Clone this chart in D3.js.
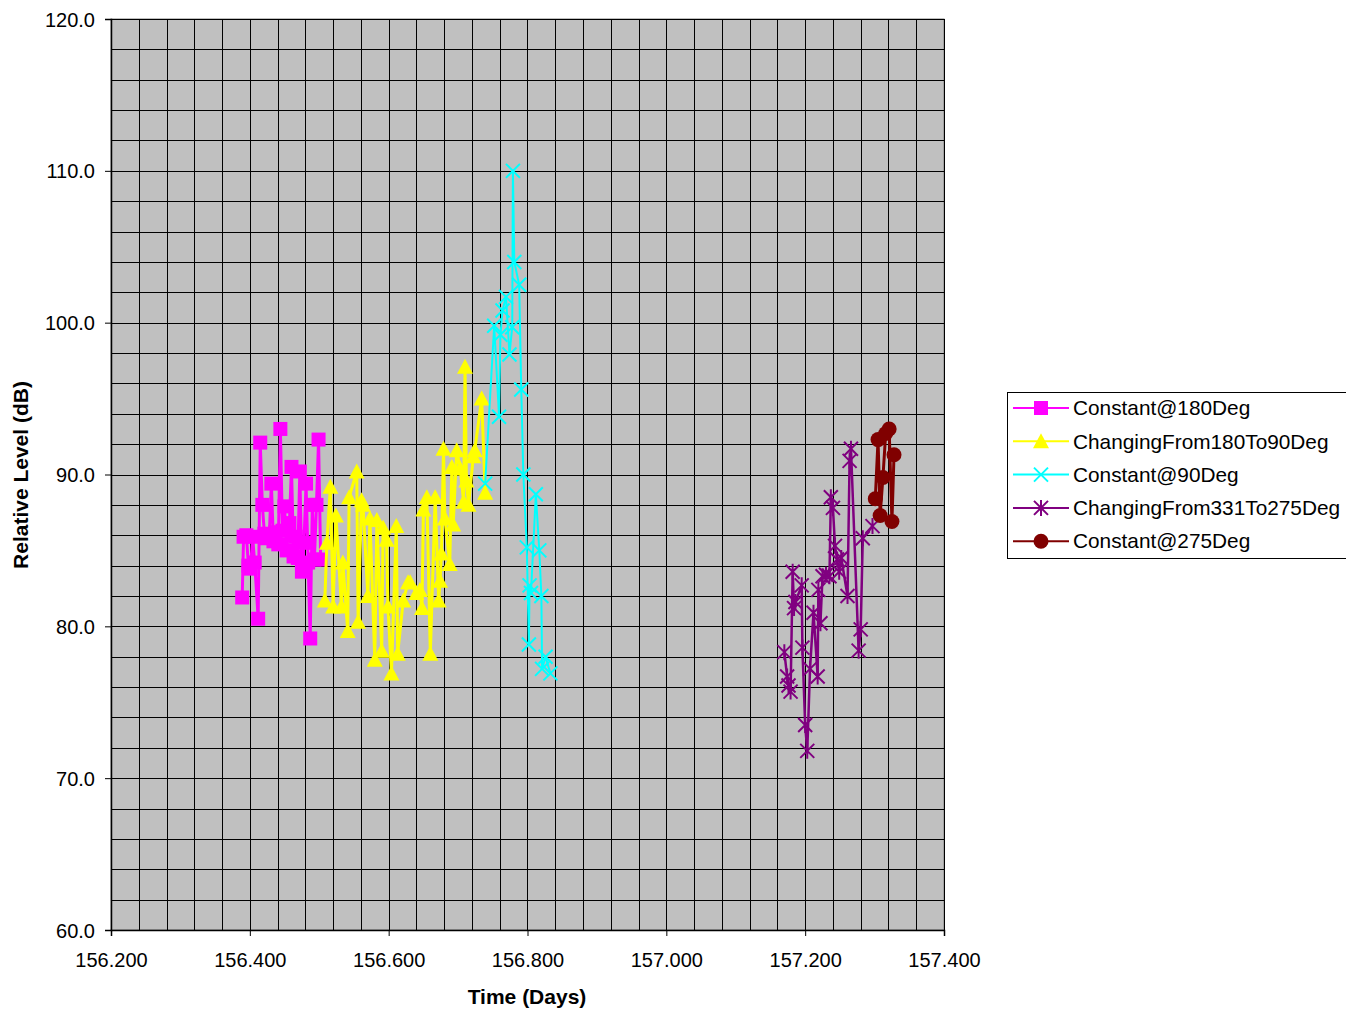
<!DOCTYPE html>
<html>
<head>
<meta charset="utf-8">
<script src="https://cdn.jsdelivr.net/npm/d3@7"></script>
<style>
  body { margin: 0; background: #fff; }
  svg { display: block; font-family: "Liberation Sans", Arial, sans-serif; }
  .axis text { font-size: 20px; fill: #000; }
  .axis path, .axis line { stroke: #000; }
</style>
</head>
<body>
<div id="chart"></div>
<script>
// Series data: time (days) and relative level (dB)
const seriesNames = ["Constant@180Deg", "ChangingFrom180To90Deg", "Constant@90Deg",
                     "ChangingFrom331To275Deg", "Constant@275Deg"];

const t180 = [156.389, 156.391, 156.395, 156.398, 156.401, 156.404, 156.407, 156.412, 156.415, 156.418,
              156.421, 156.424, 156.428, 156.431, 156.434, 156.437, 156.441, 156.444, 156.447, 156.450,
              156.453, 156.457, 156.460, 156.463, 156.466, 156.469, 156.472, 156.475, 156.478, 156.481,
              156.484, 156.487, 156.490, 156.493, 156.496, 156.499, 156.502];
const v180 = [81.9, 85.9, 86.0, 84.0, 83.8, 85.9, 84.2, 80.5, 92.1, 88.0,
              86.1, 85.8, 86.0, 89.4, 85.6, 86.2, 85.4, 93.0, 86.3, 87.9,
              85.0, 86.8, 90.5, 84.6, 85.9, 84.5, 90.2, 83.6, 85.5, 89.4,
              84.2, 79.2, 88.0, 84.4, 88.0, 92.3, 84.4];

const t180to90 = [156.508, 156.511, 156.516, 156.520, 156.524, 156.532, 156.534, 156.541, 156.543, 156.554,
                  156.556, 156.561, 156.563, 156.570, 156.573, 156.580, 156.583, 156.590, 156.592, 156.597,
                  156.599, 156.604, 156.611, 156.613, 156.621, 156.628, 156.631, 156.640, 156.645, 156.648,
                  156.650, 156.655, 156.660, 156.667, 156.672, 156.674, 156.676, 156.679, 156.681, 156.688,
                  156.691, 156.693, 156.698, 156.703, 156.708, 156.710, 156.712, 156.715, 156.722, 156.724,
                  156.734, 156.739];
const v180to90 = [81.7, 85.5, 89.2, 81.3, 87.3, 81.3, 84.2, 79.7, 88.5, 90.2,
                  80.3, 88.3, 88.0, 82.0, 87.1, 77.8, 87.0, 78.4, 86.5, 85.7,
                  81.3, 76.9, 86.6, 78.2, 81.7, 82.9, 82.9, 82.2, 82.4, 81.2,
                  87.7, 88.5, 78.2, 88.5, 81.7, 83.0, 84.8, 91.7, 87.1, 84.1,
                  90.5, 86.7, 91.6, 90.4, 88.2, 97.1, 89.6, 88.0, 91.2, 91.6,
                  95.0, 88.8];

const t90 = [156.739, 156.752, 156.759, 156.761, 156.764, 156.769, 156.774, 156.778, 156.779, 156.781,
             156.788, 156.791, 156.794, 156.799, 156.802, 156.803, 156.805, 156.812, 156.817, 156.820,
             156.821, 156.826, 156.833];
const v90 = [89.4, 99.8, 93.8, 99.2, 100.8, 101.7, 97.9, 99.7, 110.0, 104.0,
             102.5, 95.6, 90.0, 85.2, 78.8, 82.7, 82.2, 88.7, 85.0, 82.0,
             77.2, 78.0, 76.9];

const t331to275 = [157.170, 157.174, 157.176, 157.179, 157.182, 157.184, 157.186, 157.195, 157.196, 157.200,
                   157.203, 157.207, 157.212, 157.218, 157.219, 157.222, 157.225, 157.230, 157.235, 157.237,
                   157.240, 157.243, 157.246, 157.249, 157.252, 157.261, 157.264, 157.266, 157.277, 157.280,
                   157.283, 157.297];
const v331to275 = [78.3, 76.7, 76.1, 75.7, 83.6, 81.2, 81.6, 82.7, 78.6, 73.5,
                   71.8, 77.2, 80.9, 76.7, 82.4, 80.2, 83.3, 83.4, 83.3, 88.5,
                   87.8, 85.3, 84.4, 83.6, 84.5, 82.0, 90.9, 91.7, 78.4, 79.8,
                   85.8, 86.6];

const t275 = [157.301, 157.305, 157.308, 157.312, 157.316, 157.321, 157.325, 157.328];
const v275 = [88.4, 92.3, 87.3, 89.8, 92.7, 93.0, 86.9, 91.3];

const xTicks = [156.2, 156.4, 156.6, 156.8, 157.0, 157.2, 157.4];
const yTicks = [60, 70, 80, 90, 100, 110, 120];

// Layout
const width = 1346, height = 1013;
const plot = { left: 111, right: 944, top: 19, bottom: 930 };

const x = d3.scaleLinear().domain([156.2, 157.4]).range([plot.left, plot.right]);
const y = d3.scaleLinear().domain([60, 120]).range([plot.bottom, plot.top]);

const svg = d3.select("#chart").append("svg")
    .attr("width", width)
    .attr("height", height);

// Plot area
svg.append("rect")
    .attr("x", plot.left).attr("y", plot.top)
    .attr("width", plot.right - plot.left).attr("height", plot.bottom - plot.top)
    .attr("fill", "#c0c0c0")
    .attr("stroke", "#808080");

// Gridlines (every 0.04 days, every 2 dB)
const gx = d3.range(0, 31).map(i => 156.2 + i * 0.04);
const gy = d3.range(0, 31).map(i => 60 + i * 2);

svg.append("g").selectAll("line")
    .data(gx)
    .enter().append("line")
    .attr("x1", d => Math.round(x(d)) + 0.5).attr("x2", d => Math.round(x(d)) + 0.5)
    .attr("y1", plot.top).attr("y2", plot.bottom)
    .attr("stroke", "#000").attr("stroke-width", 1);

svg.append("g").selectAll("line")
    .data(gy)
    .enter().append("line")
    .attr("y1", d => Math.round(y(d)) + 0.5).attr("y2", d => Math.round(y(d)) + 0.5)
    .attr("x1", plot.left).attr("x2", plot.right)
    .attr("stroke", "#000").attr("stroke-width", 1);

// Axes
svg.append("g")
    .attr("class", "axis")
    .attr("transform", `translate(${plot.left},0)`)
    .call(d3.axisLeft(y).tickValues(yTicks).tickFormat(d3.format(".1f")).tickSize(6).tickPadding(10))
    .call(g => g.selectAll("text").attr("dy", "0.35em"));

svg.append("g")
    .attr("class", "axis")
    .attr("transform", `translate(0,${plot.bottom})`)
    .call(d3.axisBottom(x).tickValues(xTicks).tickFormat(d3.format(".3f")).tickSize(6).tickPadding(17));

svg.selectAll(".axis .domain").attr("stroke-width", 1.5);

// Axis titles
svg.append("text")
    .attr("x", 527).attr("y", 1004)
    .attr("text-anchor", "middle")
    .attr("font-size", 21).attr("font-weight", "bold")
    .text("Time (Days)");

svg.append("text")
    .attr("transform", "translate(28,475) rotate(-90)")
    .attr("text-anchor", "middle")
    .attr("font-size", 21).attr("font-weight", "bold")
    .text("Relative Level (dB)");

// Marker drawing
function drawMarker(g, type, color) {
    const s = 7;
    if (type === "square") {
        g.append("rect").attr("x", -s).attr("y", -s).attr("width", 2 * s).attr("height", 2 * s)
            .attr("fill", color);
    } else if (type === "triangle") {
        g.append("path").attr("d", `M0,${-s - 1}L${s + 1},${s}L${-s - 1},${s}Z`).attr("fill", color);
    } else if (type === "x") {
        g.append("path").attr("d", `M${-s},${-s}L${s},${s}M${s},${-s}L${-s},${s}`)
            .attr("stroke", color).attr("stroke-width", 2).attr("fill", "none");
    } else if (type === "star") {
        g.append("path").attr("d", `M${-s},${-s}L${s},${s}M${s},${-s}L${-s},${s}M0,${-s - 1}L0,${s + 1}`)
            .attr("stroke", color).attr("stroke-width", 2).attr("fill", "none");
    } else if (type === "circle") {
        g.append("circle").attr("r", s + 0.5).attr("fill", color);
    }
}

const series = [
    { name: seriesNames[0], t: t180, v: v180, color: "#ff00ff", marker: "square", lw: 3 },
    { name: seriesNames[1], t: t180to90, v: v180to90, color: "#ffff00", marker: "triangle", lw: 3 },
    { name: seriesNames[2], t: t90, v: v90, color: "#00ffff", marker: "x", lw: 2 },
    { name: seriesNames[3], t: t331to275, v: v331to275, color: "#800080", marker: "star", lw: 2.5 },
    { name: seriesNames[4], t: t275, v: v275, color: "#800000", marker: "circle", lw: 3 }
];

const line = d3.line().x(d => x(d[0])).y(d => y(d[1]));

series.forEach(s => {
    const pts = s.t.map((t, i) => [t, s.v[i]]);
    const g = svg.append("g");
    g.append("path")
        .datum(pts)
        .attr("d", line)
        .attr("fill", "none")
        .attr("stroke", s.color)
        .attr("stroke-width", s.lw)
        .attr("stroke-linejoin", "round");
    g.selectAll(".pt")
        .data(pts)
        .enter().append("g")
        .attr("class", "pt")
        .attr("transform", d => `translate(${x(d[0])},${y(d[1])})`)
        .each(function() { drawMarker(d3.select(this), s.marker, s.color); });
});

// Legend
const legend = svg.append("g").attr("transform", "translate(1007,392)");
legend.append("rect")
    .attr("x", 0.5).attr("y", 0.5).attr("width", 345).attr("height", 166)
    .attr("fill", "#fff").attr("stroke", "#000");

series.forEach((s, i) => {
    const row = legend.append("g").attr("transform", `translate(0,${16 + i * 33.3})`);
    row.append("line").attr("x1", 6).attr("x2", 62).attr("y1", 0).attr("y2", 0)
        .attr("stroke", s.color).attr("stroke-width", 2);
    const m = row.append("g").attr("transform", "translate(34,0)");
    drawMarker(m, s.marker, s.color);
    row.append("text")
        .attr("x", 66).attr("y", 0).attr("dy", "0.35em")
        .attr("font-size", 20.8)
        .text(s.name);
});
</script>
</body>
</html>
